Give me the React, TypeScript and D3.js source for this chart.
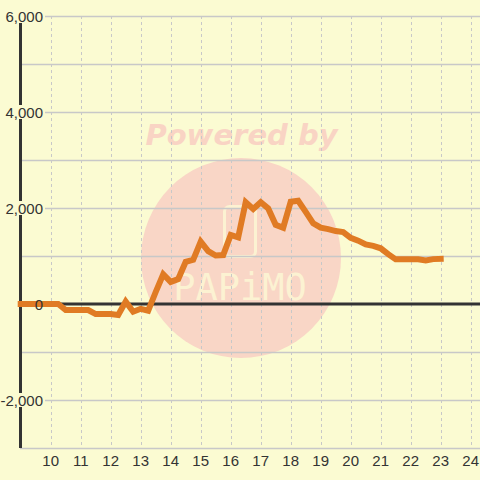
import React from "react";
import * as d3 from "d3";

const hours: number[] = [
  9, 9.25, 9.5, 9.75, 10, 10.25, 10.5, 10.75, 11, 11.25, 11.5, 11.75,
  12, 12.25, 12.5, 12.75, 13, 13.25, 13.5, 13.75, 14, 14.25, 14.5, 14.75,
  15, 15.25, 15.5, 15.75, 16, 16.25, 16.5, 16.75, 17, 17.25, 17.5, 17.75,
  18, 18.25, 18.5, 18.75, 19, 19.25, 19.5, 19.75, 20, 20.25, 20.5, 20.75,
  21, 21.25, 21.5, 21.75, 22, 22.25, 22.5, 22.75, 23,
];
const values: number[] = [
  0, 0, 0, 0, 0, 0, -125, -125, -125, -125, -210, -210,
  -210, -230, 50, -160, -100, -140, 250, 620, 460, 520, 880, 920,
  1300, 1100, 1010, 1020, 1440, 1390, 2120, 1980, 2120, 1990, 1650, 1590,
  2130, 2150, 1920, 1680, 1590, 1560, 1520, 1500, 1380, 1320, 1240, 1210,
  1160, 1040, 930, 930, 930, 930, 905, 935, 940,
];
const xTicks: number[] = [10, 11, 12, 13, 14, 15, 16, 17, 18, 19, 20, 21, 22, 23, 24];
const yGrid: number[] = [-3000, -2000, -1000, 0, 1000, 2000, 3000, 4000, 5000, 6000];
const yLabels: number[] = [-2000, 0, 2000, 4000, 6000];

const W = 480;
const H = 480;
const BG = "#fbfbd2";
const GRID = "#c8c8c8";
const DARK = "#333333";
const ORANGE = "#e07b24";

export default function App() {
  const x = d3.scaleLinear().domain([9, 24.31]).range([20.7, 480]);
  const y = d3.scaleLinear().domain([-3000, 6000]).range([448, 16]);
  const fmt = (v: number) => d3.format(",")(v).replace("\u2212", "-");
  const line = d3
    .line<number>()
    .x((_, i) => x(hours[i]))
    .y((d) => y(d));
  const font = "'Liberation Sans', Arial, sans-serif";

  return (
    <svg
      width={W}
      height={H}
      style={{ position: "absolute", left: 0, top: 0 }}
    >
      <rect x={0} y={0} width={W} height={H} fill={BG} />
      {/* watermark */}
      <g>
        <circle cx={241} cy={258} r={100} fill="#f9d6c6" />
        <text
          x={241.5}
          y={144.5}
          textAnchor="middle"
          fontFamily="'DejaVu Sans', sans-serif"
          fontWeight="bold"
          fontStyle="italic"
          fontSize={29}
          fill="#f9d4c4"
        >
          Powered by
        </text>
        <rect
          x={224.5}
          y={206.5}
          width={31}
          height={50}
          rx={5}
          fill="none"
          stroke="#fcf2d2"
          strokeWidth={3}
        />
        <text
          x={240}
          y={300}
          textAnchor="middle"
          fontFamily="'DejaVu Sans Mono', monospace"
          fontSize={37}
          fill="#fcf2d2"
        >
          PAPiMO
        </text>
      </g>
      {/* vertical dashed gridlines */}
      {xTicks.map((t) => (
        <line
          key={"vx" + t}
          x1={Math.round(x(t)) + 0.5}
          x2={Math.round(x(t)) + 0.5}
          y1={16}
          y2={448}
          stroke={GRID}
          strokeWidth={1}
          strokeDasharray="3,3"
        />
      ))}
      {/* horizontal gridlines */}
      {yGrid
        .filter((v) => v !== 0)
        .map((v) => (
          <line
            key={"hy" + v}
            x1={20}
            x2={W}
            y1={y(v) + 0.5}
            y2={y(v) + 0.5}
            stroke={GRID}
            strokeWidth={1.5}
          />
        ))}
      {/* zero line */}
      <line x1={20} x2={W} y1={y(0)} y2={y(0)} stroke={DARK} strokeWidth={3} />
      {/* y axis */}
      <line x1={20.5} x2={20.5} y1={16} y2={448} stroke={DARK} strokeWidth={3} />
      {/* data line */}
      <path
        d={line(values) || ""}
        fill="none"
        stroke={ORANGE}
        strokeWidth={6}
        strokeLinejoin="miter"
        strokeLinecap="square"
      />
      {/* y labels */}
      {yLabels.map((v) => (
        <g key={"yl" + v}>
          {v !== 0 && (
            <rect x={0} y={y(v) - 7} width={45} height={14} fill={BG} />
          )}
          <text
            x={43}
            y={y(v) + 5.5}
            textAnchor="end"
            fontFamily={font}
            fontSize={15}
            fill={DARK}
          >
            {fmt(v)}
          </text>
        </g>
      ))}
      {/* x labels */}
      {xTicks.map((t) => (
        <text
          key={"xl" + t}
          x={x(t)}
          y={466.3}
          textAnchor="middle"
          fontFamily={font}
          fontSize={15}
          fill={DARK}
        >
          {t}
        </text>
      ))}
    </svg>
  );
}
